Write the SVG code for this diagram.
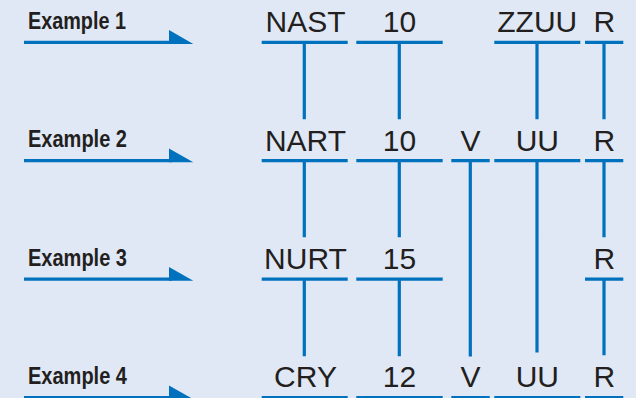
<svg xmlns="http://www.w3.org/2000/svg" width="636" height="398" viewBox="0 0 636 398">
<style>
.bg{fill:#e1e8f5}
.ln{stroke:#0071bc;stroke-width:3.2;fill:none}
.ah{fill:#0071bc}
.ex{font-family:"Liberation Sans Narrow","Liberation Sans",Arial,sans-serif;font-weight:bold;font-size:24px;fill:#231f20}
.lb{font-family:"Liberation Sans",Arial,sans-serif;font-size:30px;fill:#231f20;text-anchor:middle}
</style>
<rect class="bg" x="0" y="0" width="636" height="398"/>
<g id="row-labels">
<g id="example1"><text class="ex" x="28" y="29.3" textLength="98" lengthAdjust="spacingAndGlyphs">Example 1</text><path class="ln" d="M24 42.3H172"/><polygon class="ah" points="169,30 193.3,43.9 169,43.9"/></g>
<g id="example2"><text class="ex" x="28" y="147" textLength="99" lengthAdjust="spacingAndGlyphs">Example 2</text><path class="ln" d="M24 160.7H172"/><polygon class="ah" points="169,148.6 193.3,162.3 169,162.3"/></g>
<g id="example3"><text class="ex" x="28" y="265.7" textLength="99" lengthAdjust="spacingAndGlyphs">Example 3</text><path class="ln" d="M24 279.2H172"/><polygon class="ah" points="169,267.1 193.3,280.8 169,280.8"/></g>
<g id="example4"><text class="ex" x="28" y="384" textLength="99" lengthAdjust="spacingAndGlyphs">Example 4</text><path class="ln" d="M24 397.6H172"/><polygon class="ah" points="169,385.6 193.3,399.2 169,399.2"/></g>
</g>
<g id="connectors">
<path class="ln" d="M304.3 42.3V119.3M399.3 42.3V119.3M537 42.3V119.3M604 42.3V119.3"/>
<path class="ln" d="M304.3 160.7V237.3M399.3 160.7V237.3M470.3 160.7V356.5M537 160.7V352.5M604 160.7V237.3"/>
<path class="ln" d="M304.3 279.2V356.3M399.3 279.2V356.3M604 279.2V355.3"/>
</g>
<g id="row1">
<g id="r1-nast"><text class="lb" x="305.5" y="32.3">NAST</text><path class="ln" d="M261.7 42.3H347.7"/></g>
<g id="r1-10"><text class="lb" x="399.5" y="32.3">10</text><path class="ln" d="M356.3 42.3H442.7"/></g>
<g id="r1-zzuu"><text class="lb" x="537.3" y="32.3">ZZUU</text><path class="ln" d="M494.3 42.3H580.3"/></g>
<g id="r1-r"><text class="lb" x="604.3" y="32.3">R</text><path class="ln" d="M585 42.3H623.3"/></g>
</g>
<g id="row2">
<g id="r2-nart"><text class="lb" x="305.5" y="150.5">NART</text><path class="ln" d="M261.7 160.7H347.7"/></g>
<g id="r2-10"><text class="lb" x="399.5" y="150.5">10</text><path class="ln" d="M356.3 160.7H442.7"/></g>
<g id="r2-v"><text class="lb" x="470.5" y="150.5">V</text><path class="ln" d="M451.3 160.7H489.7"/></g>
<g id="r2-uu"><text class="lb" x="537.3" y="150.5">UU</text><path class="ln" d="M494.3 160.7H580.3"/></g>
<g id="r2-r"><text class="lb" x="604.3" y="150.5">R</text><path class="ln" d="M585 160.7H623.3"/></g>
</g>
<g id="row3">
<g id="r3-nurt"><text class="lb" x="305.5" y="269">NURT</text><path class="ln" d="M261.7 279.2H347.7"/></g>
<g id="r3-15"><text class="lb" x="399.5" y="269">15</text><path class="ln" d="M356.3 279.2H442.7"/></g>
<g id="r3-r"><text class="lb" x="604.3" y="269">R</text><path class="ln" d="M585 279.2H623.3"/></g>
</g>
<g id="row4">
<g id="r4-cry"><text class="lb" x="305.5" y="387">CRY</text><path class="ln" d="M261.7 397.6H347.7"/></g>
<g id="r4-12"><text class="lb" x="399.5" y="387">12</text><path class="ln" d="M356.3 397.6H442.7"/></g>
<g id="r4-v"><text class="lb" x="470.5" y="387">V</text><path class="ln" d="M451.3 397.6H489.7"/></g>
<g id="r4-uu"><text class="lb" x="537.3" y="387">UU</text><path class="ln" d="M494.3 397.6H580.3"/></g>
<g id="r4-r"><text class="lb" x="604.3" y="387">R</text><path class="ln" d="M585 397.6H623.3"/></g>
</g>
</svg>
